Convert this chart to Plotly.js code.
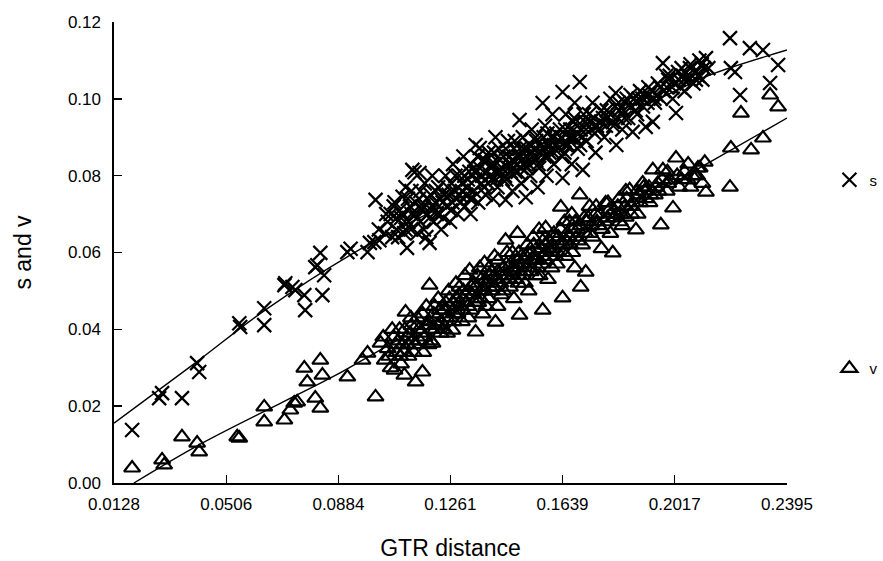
<!DOCTYPE html>
<html>
<head>
<meta charset="utf-8">
<script src="https://cdn.plot.ly/plotly-3.0.1.min.js"></script>
<style>html,body{margin:0;padding:0;background:#fff}#chart{width:883px;height:561px}</style>
</head>
<body>
<div id="chart"></div>
<script>
// x tick values (GTR distance)
const xTicks = [0.0128, 0.0506, 0.0884, 0.1261, 0.1639, 0.2017, 0.2395];
const yTicks = [0, 0.02, 0.04, 0.06, 0.08, 0.10, 0.12];

// s series (crosses)
const sX = [0.0189,0.0280,0.0290,0.0357,0.0408,0.0415,0.0550,0.0553,0.0634,0.0634,0.0702,0.0705,0.0729,0.0739,0.0769,0.0772,0.0806,0.0813,0.0823,0.0830,0.0836,0.0914,0.0925,0.0982,0.0990,0.1005,0.1022,0.1009,0.1073,0.1110,0.1140,0.1157,0.1133,
0.1040,0.1050,0.1060,0.1065,0.1080,0.1090,0.1095,0.1100,0.1105,0.1115,0.1120,0.1125,0.1130,0.1140,0.1150,0.1155,0.1160,0.1170,0.1175,0.1180,0.1185,0.1191,0.1195,0.1200,0.1205,0.1210,0.1220,0.1225,0.1230,0.1240,0.1245,0.1250,0.1260,0.1265,0.1270,0.1280,0.1285,0.1290,0.1300,0.1305,0.1310,0.1320,0.1329,0.1330,0.1340,0.1346,0.1350,0.1355,0.1360,0.1365,0.1370,0.1380,0.1385,0.1390,0.1400,0.1405,0.1410,0.1413,0.1420,0.1425,0.1430,0.1440,0.1447,0.1450,0.1455,0.1460,0.1470,0.1475,0.1480,0.1490,0.1494,0.1500,0.1505,0.1510,0.1515,0.1520,0.1530,0.1535,0.1540,0.1550,0.1555,0.1560,0.1570,0.1572,0.1580,0.1585,0.1590,0.1600,0.1605,0.1610,0.1620,0.1630,0.1639,0.1639,0.1645,0.1650,0.1660,0.1670,0.1675,0.1680,0.1690,0.1697,0.1700,0.1707,0.1710,0.1720,0.1730,0.1740,0.1750,0.1760,0.1770,0.1780,0.1790,0.1800,0.1810,0.1818,0.1820,0.1830,0.1840,0.1850,0.1860,0.1875,0.1880,0.1890,0.1900,0.1910,0.1919,0.1930,0.1943,0.1950,0.1960,0.1970,0.1977,0.1990,0.2000,0.2010,0.2021,0.2030,0.2040,0.2050,0.2060,0.2070,0.2080,0.2090,0.2100,0.2110,0.2122,0.2130,
0.2203,0.2206,0.2220,0.2237,0.2270,0.2314,0.2338,0.2365,0.2405,
0.1080,0.1110,0.1130,0.1145,0.1165,0.1190,0.1200,0.1215,0.1235,0.1255,0.1262,0.1275,0.1295,0.1300,0.1315,0.1325,0.1335,0.1345,0.1360,0.1375,0.1395,0.1400,0.1415,0.1435,0.1445,0.1460,0.1465,0.1485,0.1495,0.1500,0.1515,0.1525,0.1545,0.1550,0.1565,0.1575,0.1590,0.1595,0.1610,0.1625,0.1635,0.1650,0.1665,0.1680,0.1690,0.1705,0.1715,0.1735,0.1745,0.1755,0.1775,0.1785,0.1800,0.1815,0.1825,0.1845,0.1855,0.1870,0.1885,0.1895,0.1915,0.1925,0.1940,0.1955,0.1980,0.1995,0.2015,0.2035,0.2045,0.2065,0.2085,0.2095,0.2115];
const sY = [0.0138,0.0221,0.0234,0.0221,0.0312,0.0289,0.0416,0.0406,0.0455,0.0411,0.0515,0.0520,0.0510,0.0502,0.0489,0.0450,0.0562,0.0567,0.0599,0.0489,0.0541,0.0601,0.0610,0.0601,0.0625,0.0627,0.0632,0.0737,0.0731,0.0770,0.0809,0.0807,0.0815,
0.0650,0.0680,0.0700,0.0640,0.0660,0.0710,0.0690,0.0745,0.0650,0.0612,0.0680,0.0720,0.0760,0.0700,0.0650,0.0740,0.0680,0.0720,0.0780,0.0640,0.0700,0.0625,0.0750,0.0800,0.0680,0.0730,0.0770,0.0700,0.0660,0.0750,0.0800,0.0720,0.0680,0.0780,0.0830,0.0740,0.0700,0.0800,0.0760,0.0850,0.0720,0.0790,0.0700,0.0830,0.0760,0.0880,0.0810,0.0730,0.0872,0.0780,0.0840,0.0750,0.0810,0.0860,0.0790,0.0740,0.0830,0.0900,0.0770,0.0870,0.0810,0.0850,0.0737,0.0790,0.0890,0.0830,0.0760,0.0870,0.0810,0.0850,0.0945,0.0780,0.0900,0.0830,0.0744,0.0870,0.0800,0.0920,0.0850,0.0890,0.0770,0.0820,0.0870,0.0989,0.0930,0.0800,0.0850,0.0900,0.0960,0.0830,0.0880,0.0920,0.0794,0.1018,0.0860,0.0960,0.0900,0.0830,0.0940,0.0990,0.0870,0.1044,0.0920,0.0815,0.0960,0.0890,0.0940,0.0990,0.0860,0.0920,0.0970,0.0900,0.0950,0.1000,0.0930,0.1015,0.0880,0.0970,0.0920,0.0990,0.0950,0.0914,0.1000,0.0960,0.1020,0.0980,0.0927,0.1010,0.0940,0.0990,0.1040,0.1000,0.1093,0.1030,0.1060,0.1000,0.0963,0.1050,0.1080,0.1020,0.1060,0.1090,0.1040,0.1070,0.1100,0.1050,0.1106,0.1080,
0.1158,0.1080,0.1070,0.1010,0.1132,0.1127,0.1041,0.1088,0.1200,
0.0690,0.0660,0.0700,0.0730,0.0710,0.0690,0.0720,0.0700,0.0730,0.0750,0.0710,0.0760,0.0730,0.0780,0.0750,0.0810,0.0740,0.0790,0.0820,0.0770,0.0800,0.0830,0.0790,0.0820,0.0800,0.0850,0.0810,0.0830,0.0870,0.0820,0.0850,0.0830,0.0870,0.0840,0.0860,0.0900,0.0880,0.0860,0.0900,0.0870,0.0900,0.0880,0.0920,0.0900,0.0930,0.0900,0.0940,0.0920,0.0950,0.0930,0.0950,0.0930,0.0960,0.0980,0.0950,0.0970,0.1000,0.0980,0.0970,0.1000,0.1010,0.0990,0.1020,0.1010,0.1020,0.1050,0.1040,0.1030,0.1060,0.1050,0.1070,0.1060,0.1080];
// s series, dense core of the cloud
const sX3 = [0.1020,0.1045,0.1070,0.1085,0.1100,0.1118,0.1128,0.1148,0.1160,0.1172,0.1182,0.1198,0.1212,0.1228,0.1238,0.1252,0.1268,0.1278,0.1292,0.1308,0.1318,0.1328,0.1342,0.1352,0.1368,0.1378,0.1388,0.1398,0.1408,0.1418,0.1428,0.1438,0.1448,0.1458,0.1468,0.1478,0.1488,0.1498,0.1508,0.1518,0.1528,0.1538,0.1548,0.1558,0.1568,0.1578,0.1588,0.1598,0.1608,0.1618,0.1628,0.1638,0.1648,0.1658,0.1668,0.1678,0.1688,0.1698,0.1718,0.1728,0.1748,0.1768,0.1788,0.1808,0.1828,0.1848,0.1868,0.1888,0.1908,0.1928,0.1948,0.1968,0.1988,0.2008,0.2028,0.2048,0.2068,0.2088,0.2108];
const sY3 = [0.0660,0.0700,0.0720,0.0640,0.0700,0.0740,0.0660,0.0690,0.0760,0.0660,0.0740,0.0710,0.0760,0.0740,0.0690,0.0770,0.0730,0.0800,0.0750,0.0800,0.0770,0.0740,0.0810,0.0850,0.0800,0.0840,0.0780,0.0820,0.0860,0.0810,0.0840,0.0790,0.0870,0.0820,0.0840,0.0890,0.0810,0.0850,0.0870,0.0820,0.0880,0.0860,0.0900,0.0830,0.0880,0.0850,0.0910,0.0880,0.0860,0.0910,0.0890,0.0850,0.0920,0.0880,0.0900,0.0950,0.0910,0.0880,0.0920,0.0960,0.0910,0.0940,0.0970,0.0940,0.0990,0.0950,0.1010,0.0990,0.1000,0.1030,0.1000,0.1030,0.1060,0.1030,0.1070,0.1050,0.1080,0.1050,0.1090];

// v series (triangles)
const vX = [0.0189,0.0290,0.0297,0.0357,0.0408,0.0415,0.0543,0.0550,0.0634,0.0634,0.0702,0.0722,0.0735,0.0745,0.0769,0.0779,0.0806,0.0823,0.0823,0.0830,0.0914,0.0965,0.0982,0.1009,0.1026,
0.1040,0.1050,0.1060,0.1070,0.1073,0.1080,0.1090,0.1095,0.1100,0.1106,0.1110,0.1115,0.1120,0.1130,0.1140,0.1144,0.1150,0.1160,0.1167,0.1170,0.1180,0.1185,0.1191,0.1195,0.1201,0.1205,0.1210,0.1220,0.1230,0.1240,0.1250,0.1255,0.1260,0.1268,0.1270,0.1280,0.1285,0.1290,0.1300,0.1310,0.1315,0.1320,0.1326,0.1330,0.1340,0.1346,0.1350,0.1360,0.1365,0.1370,0.1376,0.1380,0.1390,0.1400,0.1405,0.1410,0.1413,0.1420,0.1430,0.1440,0.1447,0.1450,0.1460,0.1470,0.1475,0.1480,0.1487,0.1490,0.1494,0.1500,0.1510,0.1520,0.1525,0.1530,0.1540,0.1550,0.1555,0.1560,0.1570,0.1572,0.1580,0.1582,0.1590,0.1600,0.1610,0.1620,0.1630,0.1633,0.1639,0.1645,0.1650,0.1660,0.1670,0.1680,0.1690,0.1697,0.1700,0.1705,0.1717,0.1720,0.1730,0.1740,0.1750,0.1760,0.1770,0.1784,0.1790,0.1800,0.1808,0.1820,0.1830,0.1840,0.1850,0.1852,0.1865,0.1870,0.1886,0.1890,0.1900,0.1909,0.1920,0.1930,0.1943,0.1950,0.1960,0.1970,0.1977,0.1990,0.2000,0.2011,0.2021,0.2040,0.2061,0.2070,0.2085,0.2101,0.2110,0.2118,0.2122,
0.2203,0.2206,0.2240,0.2274,0.2314,0.2338,0.2365,0.2405,
0.1085,0.1105,0.1125,0.1135,0.1155,0.1175,0.1190,0.1200,0.1215,0.1225,0.1235,0.1245,0.1260,0.1275,0.1285,0.1295,0.1305,0.1320,0.1335,0.1345,0.1355,0.1365,0.1375,0.1385,0.1395,0.1410,0.1420,0.1430,0.1440,0.1455,0.1465,0.1475,0.1485,0.1495,0.1505,0.1515,0.1525,0.1535,0.1545,0.1555,0.1565,0.1575,0.1585,0.1595,0.1605,0.1615,0.1625,0.1640,0.1655,0.1665,0.1675,0.1685,0.1700,0.1715,0.1725,0.1735,0.1755,0.1765,0.1780,0.1795,0.1810,0.1825,0.1835,0.1855,0.1875,0.1895,0.1915,0.1935,0.1955,0.1975,0.1995,0.2025,0.2050,0.2075,0.2095];
const vY = [0.0039,0.0060,0.0047,0.0120,0.0104,0.0081,0.0120,0.0117,0.0198,0.0159,0.0164,0.0190,0.0208,0.0211,0.0299,0.0263,0.0221,0.0320,0.0195,0.0281,0.0276,0.0320,0.0338,0.0224,0.0364,
0.0320,0.0350,0.0300,0.0380,0.0294,0.0340,0.0400,0.0310,0.0360,0.0281,0.0445,0.0380,0.0330,0.0410,0.0360,0.0263,0.0430,0.0390,0.0289,0.0340,0.0460,0.0410,0.0515,0.0370,0.0364,0.0440,0.0400,0.0480,0.0420,0.0450,0.0390,0.0500,0.0430,0.0398,0.0470,0.0520,0.0440,0.0490,0.0420,0.0540,0.0470,0.0500,0.0554,0.0450,0.0520,0.0393,0.0480,0.0560,0.0500,0.0440,0.0573,0.0530,0.0480,0.0550,0.0510,0.0590,0.0419,0.0460,0.0540,0.0500,0.0632,0.0570,0.0530,0.0600,0.0480,0.0560,0.0650,0.0520,0.0437,0.0590,0.0550,0.0620,0.0500,0.0580,0.0640,0.0540,0.0600,0.0660,0.0570,0.0450,0.0620,0.0664,0.0530,0.0600,0.0650,0.0570,0.0620,0.0718,0.0482,0.0680,0.0590,0.0640,0.0700,0.0560,0.0660,0.0750,0.0510,0.0620,0.0549,0.0680,0.0720,0.0640,0.0700,0.0670,0.0610,0.0729,0.0690,0.0650,0.0599,0.0700,0.0740,0.0670,0.0720,0.0692,0.0763,0.0700,0.0659,0.0760,0.0730,0.0781,0.0740,0.0770,0.0815,0.0750,0.0780,0.0672,0.0815,0.0760,0.0789,0.0716,0.0846,0.0790,0.0789,0.0770,0.0800,0.0820,0.0780,0.0835,0.0757,
0.0770,0.0872,0.0963,0.0867,0.0898,0.1010,0.0979,0.0885,
0.0370,0.0340,0.0390,0.0370,0.0400,0.0380,0.0420,0.0400,0.0430,0.0450,0.0400,0.0470,0.0460,0.0440,0.0480,0.0460,0.0500,0.0460,0.0490,0.0510,0.0470,0.0530,0.0500,0.0520,0.0540,0.0510,0.0550,0.0520,0.0560,0.0540,0.0570,0.0550,0.0580,0.0560,0.0540,0.0590,0.0570,0.0600,0.0580,0.0560,0.0610,0.0590,0.0600,0.0630,0.0610,0.0590,0.0640,0.0620,0.0650,0.0620,0.0660,0.0640,0.0670,0.0650,0.0690,0.0670,0.0680,0.0700,0.0680,0.0710,0.0690,0.0720,0.0700,0.0740,0.0730,0.0750,0.0760,0.0750,0.0770,0.0790,0.0780,0.0800,0.0810,0.0800,0.0820];
// v series, dense core of the cloud
const vX3 = [0.1035,0.1055,0.1065,0.1078,0.1092,0.1108,0.1118,0.1128,0.1138,0.1148,0.1158,0.1168,0.1178,0.1188,0.1208,0.1218,0.1228,0.1238,0.1248,0.1258,0.1272,0.1282,0.1292,0.1302,0.1312,0.1322,0.1332,0.1342,0.1352,0.1362,0.1372,0.1382,0.1392,0.1402,0.1412,0.1422,0.1432,0.1442,0.1452,0.1462,0.1472,0.1482,0.1492,0.1502,0.1512,0.1522,0.1532,0.1542,0.1552,0.1562,0.1572,0.1582,0.1592,0.1602,0.1612,0.1622,0.1632,0.1642,0.1652,0.1662,0.1672,0.1682,0.1692,0.1712,0.1732,0.1752,0.1772,0.1792,0.1812,0.1832,0.1852,0.1872,0.1892,0.1912,0.1932,0.1962,0.1992,0.2032,0.2062,0.2092];
const vY3 = [0.0380,0.0330,0.0400,0.0360,0.0330,0.0400,0.0360,0.0430,0.0340,0.0410,0.0370,0.0440,0.0410,0.0360,0.0460,0.0410,0.0390,0.0460,0.0430,0.0480,0.0420,0.0460,0.0510,0.0450,0.0490,0.0430,0.0510,0.0470,0.0540,0.0480,0.0510,0.0460,0.0560,0.0500,0.0530,0.0580,0.0490,0.0540,0.0600,0.0510,0.0560,0.0530,0.0600,0.0570,0.0520,0.0600,0.0550,0.0620,0.0580,0.0540,0.0630,0.0580,0.0610,0.0560,0.0640,0.0600,0.0660,0.0600,0.0630,0.0680,0.0600,0.0680,0.0630,0.0690,0.0650,0.0720,0.0660,0.0730,0.0710,0.0680,0.0760,0.0720,0.0700,0.0770,0.0730,0.0760,0.0810,0.0770,0.0830,0.0800];

// fitted curves
const sFitX = [0.0128,0.0401,0.0637,0.0965,0.1261,0.1639,0.2017,0.2135,0.2395];
const sFitY = [0.0156,0.0312,0.0450,0.0612,0.0730,0.0878,0.1020,0.1062,0.1127];
const vFitX = [0.0195,0.0425,0.0864,0.0965,0.1261,0.1639,0.2017,0.2135,0.2395];
const vFitY = [0.0000,0.0104,0.0276,0.0320,0.0450,0.0617,0.0783,0.0835,0.0950];

const seriesNames = ['s', 'v'];
const FONT = 'Liberation Sans, Arial, sans-serif';

const traces = [
  {x: sFitX, y: sFitY, type: 'scatter', mode: 'lines', line: {color: '#000', width: 1.4, shape: 'spline'}, showlegend: false, hoverinfo: 'skip', cliponaxis: false},
  {x: vFitX, y: vFitY, type: 'scatter', mode: 'lines', line: {color: '#000', width: 1.4, shape: 'spline'}, showlegend: false, hoverinfo: 'skip', cliponaxis: false},
  {x: sX.concat(sX3), y: sY.concat(sY3), type: 'scatter', mode: 'markers', name: seriesNames[0], legendgroup: 'g1', cliponaxis: false,
   marker: {symbol: 'x-thin-open', size: 14, color: '#000', line: {color: '#000', width: 2.2}}},
  {x: vX.concat(vX3), y: vY.concat(vY3), type: 'scatter', mode: 'markers', name: seriesNames[1], legendgroup: 'g2', cliponaxis: false,
   marker: {symbol: 'triangle-up-open', size: 14, color: '#000', line: {color: '#000', width: 2.2}}}
];

const axisFont = {family: FONT, size: 17, color: '#000'};

const layout = {
  width: 883, height: 561,
  paper_bgcolor: '#fff', plot_bgcolor: '#fff',
  margin: {l: 114, r: 96, t: 22, b: 78, autoexpand: false},
  showlegend: true,
  legend: {x: 1.063, y: 0.693, xanchor: 'left', yanchor: 'top', traceorder: 'grouped', tracegroupgap: 166,
           font: {family: FONT, size: 15, color: '#000'}, bgcolor: 'rgba(0,0,0,0)'},
  xaxis: {
    range: [0.0128, 0.2395], tickvals: xTicks, ticktext: xTicks.map(v => v.toFixed(4)),
    showgrid: false, zeroline: false, showline: true, linecolor: '#000', linewidth: 1.6,
    ticks: 'inside', ticklen: 8, tickwidth: 1.4, tickcolor: '#000', tickfont: axisFont, ticklabelstandoff: 5,
    title: {text: 'GTR distance', font: {family: FONT, size: 23, color: '#000'}, standoff: 27}
  },
  yaxis: {
    range: [0, 0.12], tickvals: yTicks, ticktext: yTicks.map(v => v.toFixed(2)),
    showgrid: false, zeroline: false, showline: true, linecolor: '#000', linewidth: 1.6,
    ticks: 'inside', ticklen: 8, tickwidth: 1.4, tickcolor: '#000', tickfont: axisFont, ticklabelstandoff: 8,
    title: {text: 's and v', font: {family: FONT, size: 23, color: '#000'}, standoff: 30}
  }
};

Plotly.newPlot('chart', traces, layout, {displayModeBar: false, staticPlot: true});
</script>
</body>
</html>
